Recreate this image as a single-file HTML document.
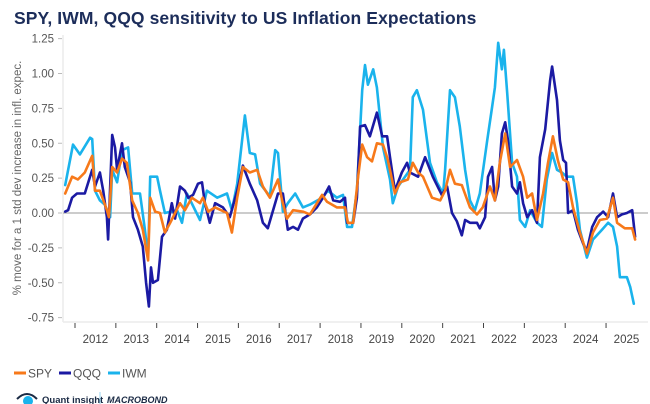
<!DOCTYPE html>
<html><head><meta charset="utf-8">
<style>
html,body{margin:0;padding:0;background:#fff;width:650px;height:404px;overflow:hidden;font-family:"Liberation Sans",sans-serif;}
#title{position:absolute;left:14px;top:8px;font-size:17.5px;font-weight:bold;color:#1c2d5a;letter-spacing:0.1px;white-space:nowrap;}
svg{position:absolute;left:0;top:0;}
</style></head>
<body>
<div id="title">SPY, IWM, QQQ sensitivity to US Inflation Expectations</div>
<svg id="chart" width="650" height="404"></svg>
<script>
const yTicks=[1.25,1.00,0.75,0.50,0.25,0.00,-0.25,-0.50,-0.75];
const yearLabels=["2012","2013","2014","2015","2016","2017","2018","2019","2020","2021","2022","2023","2024","2025"];
const iwmT=[2011.76,2011.95,2012.12,2012.37,2012.42,2012.49,2012.61,2012.73,2012.86,2012.91,2013.03,2013.15,2013.30,2013.40,2013.59,2013.71,2013.79,2013.84,2014.01,2014.08,2014.20,2014.50,2014.62,2014.74,2015.06,2015.23,2015.48,2015.72,2015.84,2015.97,2016.16,2016.28,2016.41,2016.53,2016.77,2016.90,2016.97,2017.09,2017.21,2017.39,2017.58,2017.75,2018.05,2018.19,2018.41,2018.56,2018.66,2018.78,2018.90,2019.03,2019.10,2019.17,2019.30,2019.39,2019.54,2019.71,2019.78,2019.91,2020.20,2020.27,2020.37,2020.52,2020.69,2020.86,2021.01,2021.06,2021.18,2021.30,2021.42,2021.55,2021.67,2021.79,2021.91,2022.09,2022.21,2022.28,2022.36,2022.45,2022.50,2022.58,2022.70,2022.82,2022.89,2023.02,2023.14,2023.31,2023.43,2023.55,2023.68,2023.80,2023.92,2024.04,2024.19,2024.29,2024.36,2024.53,2024.68,2024.90,2025.05,2025.17,2025.27,2025.34,2025.51,2025.59,2025.68];
const iwmV=[0.20,0.49,0.42,0.54,0.53,0.16,0.09,0.06,-0.03,0.31,0.22,0.45,0.47,0.14,0.14,-0.12,-0.32,0.26,0.26,0.16,0.00,0.02,-0.07,0.14,-0.05,0.16,0.11,0.14,0.02,0.21,0.70,0.43,0.42,0.21,0.12,0.45,0.43,0.01,0.07,0.14,0.04,0.06,0.11,0.16,0.11,0.13,-0.10,-0.10,0.16,0.88,1.06,0.92,1.03,0.90,0.47,0.24,0.07,0.19,0.31,0.83,0.88,0.74,0.36,0.22,0.14,0.31,0.88,0.83,0.62,0.31,0.09,0.02,0.14,0.52,0.76,0.90,1.22,1.03,1.17,0.86,0.36,0.26,-0.05,-0.10,0.02,-0.07,-0.10,0.24,0.43,0.31,0.29,0.26,0.26,0.07,-0.12,-0.32,-0.19,-0.12,-0.07,-0.10,-0.24,-0.46,-0.46,-0.53,-0.65];
const qqqT=[2011.76,2011.83,2011.93,2012.05,2012.24,2012.42,2012.49,2012.61,2012.69,2012.78,2012.81,2012.91,2012.98,2013.03,2013.15,2013.22,2013.35,2013.42,2013.54,2013.66,2013.74,2013.81,2013.86,2013.91,2014.03,2014.13,2014.25,2014.37,2014.45,2014.57,2014.69,2014.77,2014.89,2015.01,2015.11,2015.18,2015.30,2015.43,2015.62,2015.79,2015.97,2016.11,2016.28,2016.46,2016.60,2016.72,2016.85,2016.97,2017.09,2017.21,2017.34,2017.46,2017.58,2017.75,2017.92,2018.07,2018.22,2018.32,2018.49,2018.61,2018.66,2018.81,2018.90,2018.98,2019.10,2019.22,2019.39,2019.52,2019.64,2019.71,2019.83,2020.00,2020.13,2020.20,2020.40,2020.57,2020.76,2020.98,2021.11,2021.23,2021.35,2021.47,2021.55,2021.67,2021.84,2021.91,2022.04,2022.11,2022.21,2022.28,2022.36,2022.45,2022.53,2022.60,2022.70,2022.82,2022.89,2022.97,2023.07,2023.19,2023.31,2023.38,2023.51,2023.63,2023.68,2023.80,2023.87,2023.95,2024.02,2024.07,2024.19,2024.31,2024.44,2024.53,2024.66,2024.78,2024.93,2025.05,2025.17,2025.27,2025.39,2025.51,2025.64,2025.71];
const qqqV=[0.01,0.02,0.11,0.14,0.14,0.31,0.19,0.29,0.16,-0.03,-0.19,0.56,0.47,0.31,0.50,0.33,0.22,-0.03,-0.12,-0.24,-0.50,-0.67,-0.39,-0.50,-0.48,-0.17,-0.12,0.07,-0.04,0.19,0.16,0.11,0.13,0.21,0.22,0.07,-0.07,0.07,0.04,-0.03,0.16,0.34,0.21,0.09,-0.07,-0.11,0.02,0.14,0.14,-0.12,-0.10,-0.12,-0.04,-0.01,0.04,0.11,0.19,0.09,0.08,0.11,-0.07,-0.07,0.11,0.62,0.63,0.55,0.72,0.55,0.55,0.40,0.16,0.29,0.36,0.29,0.26,0.40,0.26,0.13,0.19,0.00,-0.06,-0.16,-0.05,-0.07,-0.07,-0.11,-0.03,0.26,0.33,0.09,0.19,0.57,0.65,0.52,0.19,0.14,0.22,0.07,-0.03,0.02,-0.07,0.40,0.60,0.95,1.05,0.81,0.52,0.38,0.36,0.00,0.02,-0.12,-0.22,-0.27,-0.10,-0.03,0.01,-0.03,0.14,-0.03,-0.01,0.00,0.02,-0.17];
const spyT=[2011.76,2011.93,2012.07,2012.24,2012.42,2012.49,2012.61,2012.78,2012.83,2012.91,2013.03,2013.15,2013.27,2013.40,2013.54,2013.66,2013.79,2013.84,2013.96,2014.08,2014.20,2014.33,2014.45,2014.57,2014.69,2014.86,2015.06,2015.13,2015.26,2015.43,2015.72,2015.84,2015.97,2016.11,2016.28,2016.46,2016.60,2016.77,2016.97,2017.07,2017.19,2017.34,2017.58,2017.75,2018.05,2018.17,2018.41,2018.61,2018.68,2018.81,2018.93,2019.03,2019.15,2019.27,2019.39,2019.54,2019.66,2019.83,2019.96,2020.15,2020.27,2020.40,2020.52,2020.74,2020.94,2021.06,2021.18,2021.30,2021.47,2021.67,2021.84,2021.98,2022.16,2022.28,2022.40,2022.53,2022.65,2022.82,2022.97,2023.07,2023.19,2023.31,2023.46,2023.58,2023.70,2023.82,2023.95,2024.07,2024.19,2024.36,2024.53,2024.68,2024.85,2025.02,2025.17,2025.27,2025.46,2025.64,2025.71];
const spyV=[0.14,0.26,0.24,0.29,0.41,0.16,0.16,0.02,-0.03,0.33,0.29,0.39,0.36,0.09,0.00,-0.12,-0.34,0.11,0.01,0.00,-0.14,-0.07,0.00,0.07,0.02,0.11,0.07,0.11,0.01,0.04,0.00,-0.14,0.11,0.33,0.29,0.31,0.19,0.11,0.24,0.09,-0.04,0.02,0.01,-0.01,0.13,0.08,0.04,0.04,-0.07,-0.07,0.26,0.49,0.40,0.37,0.50,0.49,0.38,0.14,0.22,0.24,0.36,0.29,0.26,0.11,0.09,0.16,0.31,0.21,0.20,0.04,-0.01,0.04,0.19,0.09,0.36,0.57,0.33,0.38,0.26,0.11,0.14,-0.05,0.14,0.36,0.55,0.38,0.24,0.22,0.04,-0.14,-0.29,-0.14,-0.05,-0.04,0.11,-0.07,-0.11,-0.11,-0.19];

const svg=document.getElementById('chart');
const NS='http://www.w3.org/2000/svg';
const X0=63,X1=648;
function xs(t){return 75+(t-2012)*40.85;}
function ys(v){return 213-v*139.5;}
function mk(tag,attrs,parent){const e=document.createElementNS(NS,tag);for(const k in attrs)e.setAttribute(k,attrs[k]);(parent||svg).appendChild(e);return e;}

// axes
let ax=mk('line',{x1:X0,y1:35,x2:X0,y2:322,stroke:'#e2e2e2','stroke-width':1});


let bx=mk('line',{x1:X0,y1:322,x2:X1,y2:322,stroke:'#ececec','stroke-width':1.5});


yTicks.forEach(v=>{
  const y=ys(v);
  const tk=mk('line',{x1:X0-5,y1:y,x2:X0-1,y2:y,stroke:'#bbb','stroke-width':1});
  
  
  const tx=mk('text',{x:X0-9,y:y+4,'text-anchor':'end','font-size':'11.5',fill:'#555','font-family':'Liberation Sans, sans-serif'});
  tx.textContent=v.toFixed(2);
  
  
});
let zl=mk('line',{x1:X0,y1:ys(0),x2:X1,y2:ys(0),stroke:'#999','stroke-width':1});


yearLabels.forEach((lab,i)=>{
  const yr=2012+i;
  const t=mk('line',{x1:xs(yr),y1:323,x2:xs(yr),y2:328,stroke:'#444','stroke-width':1});
  
  
  const tx=mk('text',{x:xs(yr+0.5),y:343,'text-anchor':'middle','font-size':'11.5',fill:'#444','font-family':'Liberation Sans, sans-serif'});
  tx.textContent=lab;
  
  
});
let yt=mk('text',{x:0,y:0,transform:'translate(21,178) rotate(-90)','text-anchor':'middle','font-size':'11.5',fill:'#666','font-family':'Liberation Sans, sans-serif'});
yt.textContent='% move for a 1 std dev increase in infl. expec.';



function series(T,V,color,name){
  const d=T.map((t,i)=>(i?'L':'M')+xs(t).toFixed(1)+','+ys(V[i]).toFixed(1)).join(' ');
  const p=mk('path',{d:d,fill:'none',stroke:color,'stroke-width':2.6,'stroke-linejoin':'round','stroke-linecap':'round'});
  
  
}
series(iwmT,iwmV,'#1ab3ec','iwm-line');
series(qqqT,qqqV,'#1b1aa3','qqq-line');
series(spyT,spyV,'#f7791a','spy-line');

// legend
const legendItems=[['SPY','#f7791a',14],['QQQ','#1b1aa3',59],['IWM','#1ab3ec',108]];
legendItems.forEach(([n,c,x])=>{
  const g=mk('g',{});
  
  
  mk('line',{x1:x,y1:373,x2:x+12,y2:373,stroke:c,'stroke-width':3},g);
  const t=mk('text',{x:x+14,y:377.5,'font-size':'12',fill:'#555','font-family':'Liberation Sans, sans-serif'},g);
  t.textContent=n;
});

// footer logos
const lg=mk('g',{});


mk('path',{d:'M17,399 Q27,389 37,399',fill:'none',stroke:'#1a2a44','stroke-width':2},lg);
mk('circle',{cx:28,cy:401,r:5,fill:'#1ab3ec'},lg);
const qt=mk('text',{x:42,y:403,'font-size':'9.5','font-weight':'bold',fill:'#1a2a44','font-family':'Liberation Sans, sans-serif'},lg);
qt.textContent='Quant insight';
const sep=mk('line',{x1:100,y1:392,x2:100,y2:408,stroke:'#9ad6f0','stroke-width':1});


const mb=mk('text',{x:107,y:403,'font-size':'9','font-weight':'bold','font-style':'italic',fill:'#1a2a44','font-family':'Liberation Sans, sans-serif'});
mb.textContent='MACROBOND';


</script>
</body></html>
